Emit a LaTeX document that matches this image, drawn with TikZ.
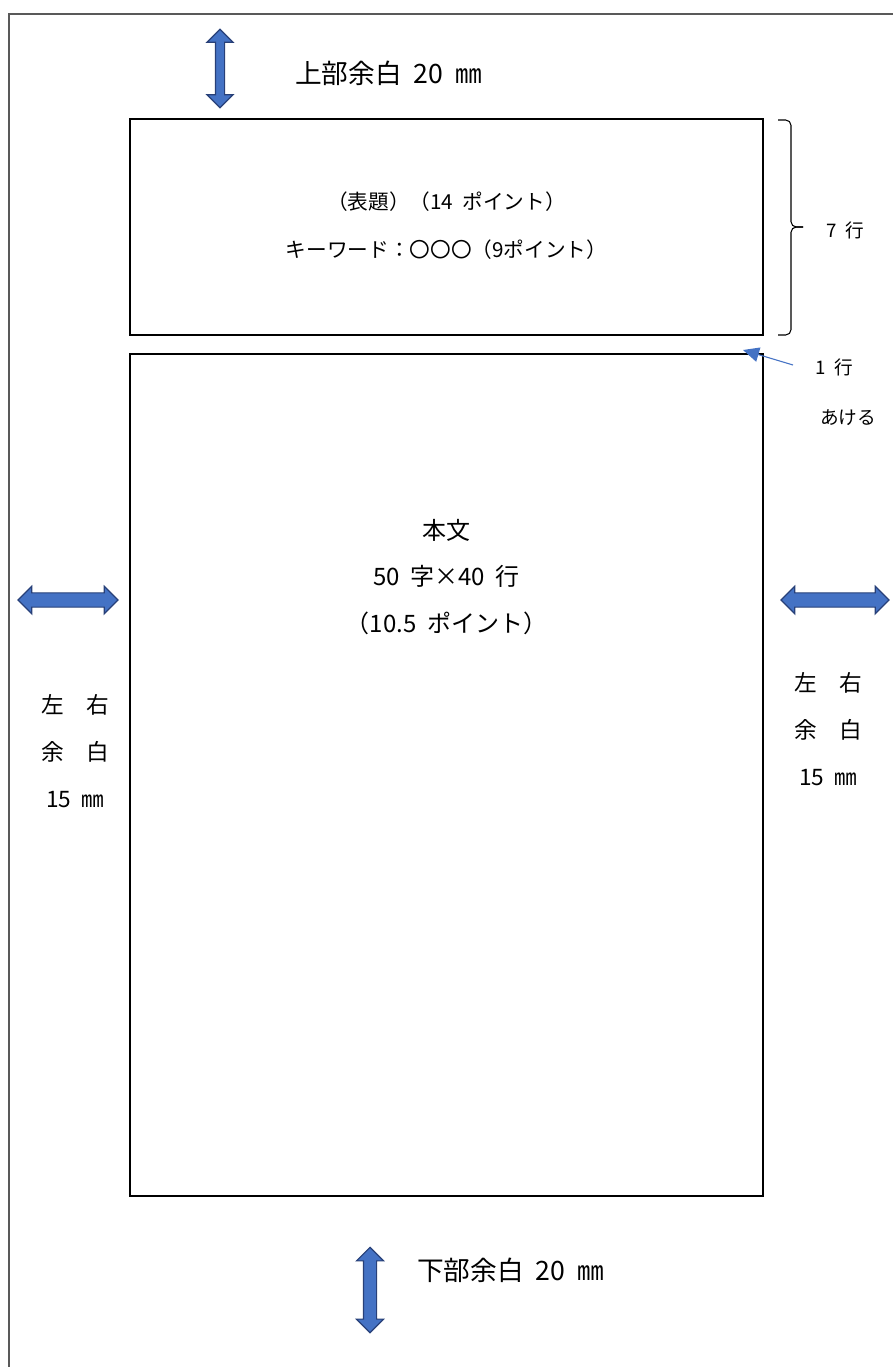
\documentclass[tikz,border=0pt]{standalone}
\usepackage{fontspec}
\setmainfont[WordSpace=2]{Noto Sans CJK JP}
\usetikzlibrary{shapes.arrows,arrows.meta}
\definecolor{arrowblue}{RGB}{68,114,196}
\definecolor{arrowedge}{RGB}{40,64,120}
\definecolor{framegray}{RGB}{89,89,89}
\tikzstyle{margarrow} = [double arrow, fill=arrowblue, draw=arrowedge, line width=0.9pt,
                         double arrow head indent=0pt, double arrow tip angle=90]
\tikzstyle{pagebox}   = [draw, line width=1pt]
\tikzstyle{big}       = [font=\fontsize{20}{24}\selectfont]
\tikzstyle{mid}       = [font=\fontsize{17}{35}\selectfont, align=center]
\tikzstyle{small}     = [font=\fontsize{14}{17}\selectfont]

\begin{document}
\begin{tikzpicture}[x=0.75pt, y=-0.75pt]
           \useasboundingbox (0,0) rectangle (893,1367);
           % page edge
           \draw[framegray, line width=1.6pt] (9,1367) -- (9,14) -- (893,14);
           % title box and body box
           \node[pagebox, minimum width=474.75pt, minimum height=162pt](title)at(446.5, 227){};
           \node[pagebox, minimum width=474.75pt, minimum height=631.5pt](body)at(446.5, 775){};
           \node[mid, font=\fontsize{15.5}{36}\selectfont](t1)at(446.5, 226){（表題）（14 ポイント）\\キーワード：〇〇〇（9ポイント）};
           \node[mid, font=\fontsize{18}{35}\selectfont](b1)at(446.5, 577){本文\\50 字×40 行\\（10.5 ポイント）};
           % margins
           \node[margarrow, rotate=90, minimum height=59pt, inner sep=3pt, double arrow head extend=6.4pt](up)at(220, 68.5){};
           \node[big, anchor=west, inner sep=0pt](upt)at(295, 73){上部余白 20 ㎜};
           \node[margarrow, rotate=90, minimum height=64pt, inner sep=4.5pt, double arrow head extend=5.2pt](dn)at(370, 1290){};
           \node[big, anchor=west, inner sep=0pt](dnt)at(417, 1270){下部余白 20 ㎜};
           \node[margarrow, minimum height=75pt, inner sep=4.9pt, double arrow head extend=5pt](lf)at(68, 600){};
           \node[margarrow, minimum height=81pt, inner sep=4.9pt, double arrow head extend=5pt](rt)at(835, 600){};
           \node[mid](lft)at(75, 751){左　右\\余　白\\15 ㎜};
           \node[mid](rtt)at(828, 729){左　右\\余　白\\15 ㎜};
           % seven lines, one blank line
           \draw[rounded corners=4pt, line width=0.8pt](778, 120) -- (791, 120) -- (791, 227) -- (803, 227);
           \draw[rounded corners=4pt, line width=0.8pt](778, 335) -- (791, 335) -- (791, 227) -- (803, 227);
           \node[small](g7)at(845, 230){7 行};
           \coordinate(gapa)at(793, 365);
           \coordinate(gapb)at(743, 350);
           \draw[-{Triangle[length=12pt, width=11pt]}, arrowblue, line width=0.8pt](gapa) -- (gapb);
           \node[small](g1)at(834, 367){1 行};
           \node[small](g2)at(848, 418){あける};
       \end{tikzpicture}
\end{document}
